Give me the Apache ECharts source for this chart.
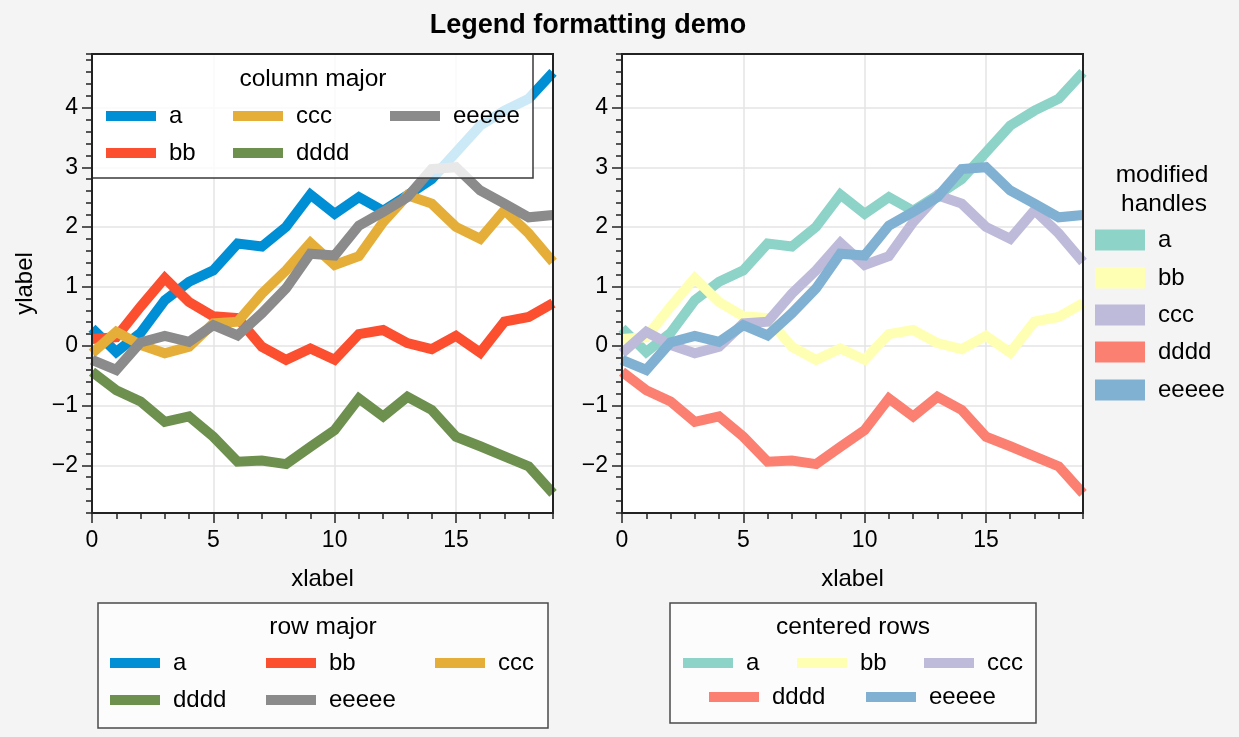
<!DOCTYPE html>
<html>
<head>
<meta charset="utf-8">
<title>Legend formatting demo</title>
<script src="https://cdn.jsdelivr.net/npm/echarts@6/dist/echarts.min.js"></script>
<style>
	html, body { margin: 0; padding: 0; background: #f4f4f4; }
	#main { width: 1239px; height: 737px; }
</style>
</head>
<body>
<div id="main"></div>
<script>
	// data
	var steps = [0, 1, 2, 3, 4, 5, 6, 7, 8, 9, 10, 11, 12, 13, 14, 15, 16, 17, 18, 19];
	var names = ['a', 'bb', 'ccc', 'dddd', 'eeeee'];
	var valsA = [0.30, -0.10, 0.22, 0.77, 1.08, 1.27, 1.72, 1.67, 2.00, 2.54, 2.22, 2.50, 2.27, 2.53, 2.80, 3.25, 3.70, 3.95, 4.15, 4.59];
	var valsBB = [0.12, 0.15, 0.66, 1.14, 0.74, 0.50, 0.47, -0.01, -0.23, -0.04, -0.23, 0.20, 0.27, 0.05, -0.05, 0.17, -0.11, 0.41, 0.49, 0.72];
	var valsCCC = [-0.12, 0.24, 0.02, -0.12, -0.01, 0.38, 0.41, 0.88, 1.27, 1.73, 1.36, 1.51, 2.08, 2.53, 2.39, 2.00, 1.80, 2.28, 1.89, 1.41];
	var valsDDDD = [-0.43, -0.74, -0.93, -1.27, -1.18, -1.52, -1.94, -1.92, -1.98, -1.69, -1.41, -0.88, -1.18, -0.85, -1.07, -1.52, -1.68, -1.85, -2.02, -2.47];
	var valsEEEEE = [-0.23, -0.40, 0.06, 0.17, 0.07, 0.35, 0.18, 0.55, 0.97, 1.55, 1.52, 2.02, 2.25, 2.50, 2.97, 3.00, 2.61, 2.39, 2.16, 2.20];
	var allVals = [valsA, valsBB, valsCCC, valsDDDD, valsEEEEE];

	var xTicks = [0, 5, 10, 15];
	var yTicks = [-2, -1, 0, 1, 2, 3, 4];

	var leftColors = ['#008fd5', '#fc4f30', '#e5ae38', '#6d904f', '#8b8b8b'];
	var rightColors = ['#8dd3c7', '#ffffb3', '#bebada', '#fb8072', '#80b1d3'];

	var FONT = "'Liberation Sans', Arial, sans-serif";
	var tickStyle = { color: '#222', width: 1.5 };

	var chart = echarts.init(document.getElementById('main'));

	// 主刻度 + 次刻度 两条轴叠在一起
	function makeXAxes(gi) {
		return [{
			type: 'value', gridIndex: gi, min: 0, max: 19, position: 'bottom',
			name: 'xlabel', nameLocation: 'middle', nameGap: 54,
			nameTextStyle: { fontSize: 24, color: '#000', fontFamily: FONT },
			axisLine: { show: false, onZero: false },
			axisTick: { show: true, inside: false, length: 10, customValues: xTicks, lineStyle: tickStyle },
			axisLabel: { customValues: xTicks, fontSize: 23, color: '#000', fontFamily: FONT, margin: 16 },
			splitLine: { show: true, lineStyle: { color: '#e4e4e4', width: 1.5 } }
		}, {
			type: 'value', gridIndex: gi, min: 0, max: 19, interval: 1, position: 'bottom',
			axisLine: { show: false, onZero: false },
			axisTick: { show: true, inside: false, length: 6, lineStyle: tickStyle },
			axisLabel: { show: false },
			splitLine: { show: false }
		}];
	}

	function makeYAxes(gi, withName) {
		return [{
			type: 'value', gridIndex: gi, min: -2.8, max: 4.9, position: 'left',
			name: withName ? 'ylabel' : '', nameLocation: 'middle', nameGap: 55,
			nameTextStyle: { fontSize: 24, color: '#000', fontFamily: FONT },
			axisLine: { show: false, onZero: false },
			axisTick: { show: true, inside: false, length: 10, customValues: yTicks, lineStyle: tickStyle },
			axisLabel: {
				customValues: yTicks, fontSize: 23, color: '#000', fontFamily: FONT, margin: 14,
				formatter: function(v) { return v < 0 ? '\u2212' + (-v) : String(v); }
			},
			splitLine: { show: true, lineStyle: { color: '#e4e4e4', width: 1.5 } }
		}, {
			type: 'value', gridIndex: gi, min: -2.8, max: 4.9, interval: 0.2, position: 'left',
			axisLine: { show: false, onZero: false },
			axisTick: { show: true, inside: false, length: 6, lineStyle: tickStyle },
			axisLabel: { show: false },
			splitLine: { show: false }
		}];
	}

	function makeSeries(gi, colors) {
		return names.map(function(n, k) {
			return {
				name: n, type: 'line', xAxisIndex: gi * 2, yAxisIndex: gi * 2,
				data: steps.map(function(x, i) { return [x, allVals[k][i]]; }),
				showSymbol: false, symbol: 'none', silent: true, animation: false,
				color: colors[k],
				lineStyle: { color: colors[k], width: 10, join: 'miter', cap: 'butt' },
				z: 2
			};
		});
	}

	// 单个图例条目
	function legendItem(name, color, x, cy, w, h) {
		return {
			show: true, z: 60, padding: 0, left: x, top: cy - 12,
			selectedMode: false, itemWidth: w, itemHeight: h, icon: 'rect',
			data: [{ name: name, icon: 'rect', itemStyle: { color: color, borderWidth: 0 } }],
			textStyle: { fontSize: 24, lineHeight: 24, color: '#000', fontFamily: FONT, padding: [0, 0, 0, 8] }
		};
	}

	var legends = [];
	// column major (左上)
	[[106, 116], [106, 153], [233, 116], [233, 153], [390, 116]].forEach(function(p, k) {
		legends.push(legendItem(names[k], leftColors[k], p[0], p[1], 50, 10));
	});
	// row major (左下)
	[[110, 663], [266, 663], [435, 663], [110, 700], [266, 700]].forEach(function(p, k) {
		legends.push(legendItem(names[k], leftColors[k], p[0], p[1], 50, 10));
	});
	// centered rows (右下)
	[[683, 663], [797, 663], [924, 663], [709, 697], [866, 697]].forEach(function(p, k) {
		legends.push(legendItem(names[k], rightColors[k], p[0], p[1], 50, 10));
	});
	// modified handles (右侧)
	[240, 278, 315, 352, 390].forEach(function(cy, k) {
		legends.push(legendItem(names[k], rightColors[k], 1095, cy, 50, 21));
	});

	function txt(s, x, y, size, weight) {
		return {
			type: 'text', x: x, y: y, z: 70, silent: true,
			style: { text: s, fill: '#000', font: (weight || 'normal') + ' ' + size + 'px ' + FONT, textAlign: 'center', textVerticalAlign: 'middle' }
		};
	}

	var option = {
		backgroundColor: '#f4f4f4',
		animation: false,
		grid: [
			{ left: 92, top: 54, width: 461, height: 459, show: true, backgroundColor: '#fff', borderWidth: 0, outerBoundsMode: 'none', containLabel: false },
			{ left: 622, top: 54, width: 461, height: 459, show: true, backgroundColor: '#fff', borderWidth: 0, outerBoundsMode: 'none', containLabel: false }
		],
		xAxis: makeXAxes(0).concat(makeXAxes(1)),
		yAxis: makeYAxes(0, true).concat(makeYAxes(1, false)),
		legend: legends,
		series: makeSeries(0, leftColors).concat(makeSeries(1, rightColors)),
		graphic: [
			// 坐标框
			{ type: 'rect', z: 100, silent: true, shape: { x: 92, y: 54, width: 461, height: 459 }, style: { fill: 'none', stroke: '#222', lineWidth: 2 } },
			{ type: 'rect', z: 100, silent: true, shape: { x: 622, y: 54, width: 461, height: 459 }, style: { fill: 'none', stroke: '#222', lineWidth: 2 } },
			// 图例框
			{ type: 'rect', z: 50, silent: true, shape: { x: 92, y: 54, width: 441, height: 124 }, style: { fill: 'rgba(255,255,255,0.8)', stroke: '#3a3a3a', lineWidth: 1.5 } },
			{ type: 'rect', z: 50, silent: true, shape: { x: 98, y: 603, width: 450, height: 125 }, style: { fill: '#fcfcfc', stroke: '#4a4a4a', lineWidth: 1.5 } },
			{ type: 'rect', z: 50, silent: true, shape: { x: 670, y: 603, width: 366, height: 120 }, style: { fill: '#fcfcfc', stroke: '#4a4a4a', lineWidth: 1.5 } },
			txt('Legend formatting demo', 588, 26, 27, 'bold'),
			txt('column major', 313, 79, 24.5),
			txt('row major', 323, 627, 24.5),
			txt('centered rows', 853, 627, 24.5),
			txt('modified', 1162, 175, 24.5),
			txt('handles', 1164, 204, 24.5)
		]
	};

	chart.setOption(option);
</script>
</body>
</html>
